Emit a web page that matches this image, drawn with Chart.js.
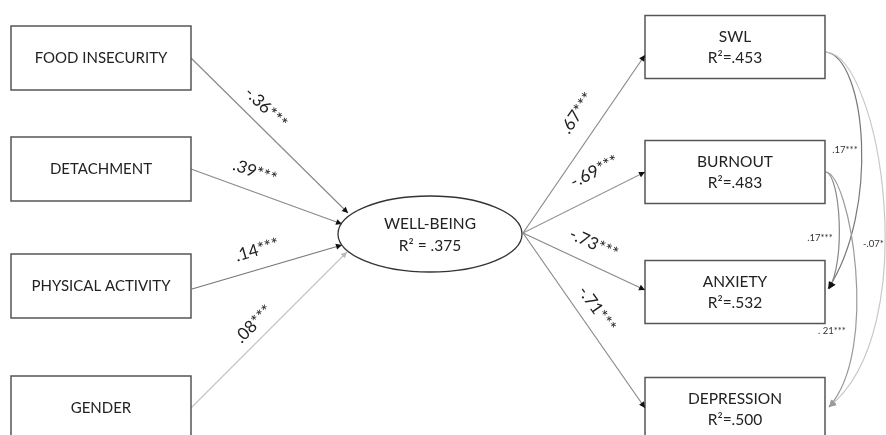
<!DOCTYPE html>
<html>
<head>
<meta charset="utf-8">
<script src="https://cdn.jsdelivr.net/npm/chart.js"></script>
<style>
  html, body { margin: 0; padding: 0; background: #fff; }
  #pathChart { display: block; }
</style>
</head>
<body>
<canvas id="pathChart" width="886" height="435"></canvas>
<script>
    // model values
    const predictors = ['FOOD INSECURITY', 'DETACHMENT', 'PHYSICAL ACTIVITY', 'GENDER'];
    const predictorCoefs = ['-.36***', '.39***', '.14***', '.08***'];
    const mediator = 'WELL-BEING';
    const mediatorR2 = '.375';
    const outcomes = ['SWL', 'BURNOUT', 'ANXIETY', 'DEPRESSION'];
    const outcomeR2 = ['.453', '.483', '.532', '.500'];
    const outcomeCoefs = ['.67***', '-.69***', '-.73***', '-.71***'];
    const covFrom = [0, 0, 1, 1];
    const covTo = [2, 3, 2, 3];
    const covLabels = ['.17***', '-.07*', '.17***', '. 21***'];

    // layout (diagram units = pixels of the 886x435 frame)
    const leftBox = { x0: 11, x1: 191, h: 64 };
    const leftBoxMid = [58, 169, 286, 408];
    const rightBox = { x0: 645, x1: 825, h: 63 };
    const rightBoxMid = [47, 172, 292, 409];
    const oval = { cx: 430, cy: 234, rx: 92, ry: 38 };
    const inStart = [[191, 58], [191, 169], [192, 289], [191, 408]];
    const inEnd = [[348, 213], [342, 224], [342, 245], [347, 252]];
    const inColor = ['#8a8a8a', '#8a8a8a', '#777777', '#c6c6c6'];
    const inLabelPos = [[0.40, 17], [0.38, 19], [0.47, 19], [0.47, 15]];
    const outStart = [523, 233];
    const outEnd = [[645, 55], [645, 172], [645, 290], [645, 408]];
    const outColor = ['#8a8a8a', '#969696', '#8a8a8a', '#8a8a8a'];
    const outLabelPos = [[0.60, 23], [0.67, 23], [0.51, 20], [0.49, 17]];
    const covCurves = [
        [[826, 52], [866, 58], [880, 210], [828, 289]],
        [[826, 52], [880, 55], [925, 330], [829, 407]],
        [[826, 172], [840, 175], [846, 260], [829, 289]],
        [[826, 172], [850, 175], [880, 350], [829, 407]]
    ];
    const covColor = ['#777777', '#c8c8c8', '#888888', '#9a9a9a'];
    const covLabelXY = [[845, 150, 'center'], [863, 244, 'left'], [820, 238, 'center'], [832, 331, 'center']];

    const FONT = 'Lato, "Open Sans", sans-serif';
    const TEXT = '#222222';

    function buildDatasets() {
        let sets = [];
        for (let i = 0; i < predictors.length; i++) {
            sets.push({
                data: [{ x: inStart[i][0], y: inStart[i][1] }, { x: inEnd[i][0], y: inEnd[i][1] }],
                showLine: true, borderColor: inColor[i], borderWidth: 1.2, pointRadius: 0
            });
        }
        for (let i = 0; i < outcomes.length; i++) {
            sets.push({
                data: [{ x: outStart[0], y: outStart[1] }, { x: outEnd[i][0], y: outEnd[i][1] }],
                showLine: true, borderColor: outColor[i], borderWidth: 1.2, pointRadius: 0
            });
        }
        return sets;
    }

    function arrowHead(ctx, x, y, ang, len, half, color) {
        ctx.save();
        ctx.translate(x, y);
        ctx.rotate(ang);
        ctx.beginPath();
        ctx.moveTo(0, 0);
        ctx.lineTo(-len, -half);
        ctx.lineTo(-len, half);
        ctx.closePath();
        ctx.fillStyle = color;
        ctx.fill();
        ctx.restore();
    }

    function pathLabel(ctx, a, b, t, off, text) {
        let dx = b[0] - a[0], dy = b[1] - a[1];
        let len = Math.hypot(dx, dy);
        let ux = dx / len, uy = dy / len;
        let x = a[0] + dx * t + uy * off;
        let y = a[1] + dy * t - ux * off;
        ctx.save();
        ctx.translate(x, y);
        ctx.rotate(Math.atan2(dy, dx));
        ctx.font = '17px ' + FONT;
        ctx.fillStyle = TEXT;
        ctx.textAlign = 'center';
        ctx.textBaseline = 'middle';
        ctx.fillText(text, 0, 0);
        ctx.restore();
    }

    function box(ctx, x0, x1, y0, y1) {
        ctx.fillStyle = '#fff';
        ctx.fillRect(x0, y0, x1 - x0, y1 - y0);
        ctx.strokeStyle = '#555555';
        ctx.lineWidth = 1.5;
        ctx.strokeRect(x0, y0, x1 - x0, y1 - y0);
    }

    const diagramPlugin = {
        id: 'diagram',
        afterDatasetsDraw(chart) {
            const ctx = chart.ctx;
            const xs = chart.scales.x, ys = chart.scales.y;
            const P = p => [xs.getPixelForValue(p[0]), ys.getPixelForValue(p[1])];
            ctx.save();

            // covariance curves
            for (let i = 0; i < covCurves.length; i++) {
                let c = covCurves[i].map(P);
                ctx.beginPath();
                ctx.moveTo(c[0][0], c[0][1]);
                ctx.bezierCurveTo(c[1][0], c[1][1], c[2][0], c[2][1], c[3][0], c[3][1]);
                ctx.strokeStyle = covColor[i];
                ctx.lineWidth = 1.2;
                ctx.stroke();
                let ang = Math.atan2(c[3][1] - c[2][1], c[3][0] - c[2][0]);
                arrowHead(ctx, c[3][0], c[3][1], ang, 7, 3.5, covTo[i] == 2 ? '#111' : '#9a9a9a');
            }
            ctx.font = '9.5px ' + FONT;
            ctx.fillStyle = '#333';
            ctx.textBaseline = 'middle';
            for (let i = 0; i < covLabels.length; i++) {
                let p = P(covLabelXY[i]);
                ctx.textAlign = covLabelXY[i][2];
                ctx.fillText(covLabels[i], p[0], p[1]);
            }

            // predictor boxes
            for (let i = 0; i < predictors.length; i++) {
                let a = P([leftBox.x0, leftBoxMid[i] - leftBox.h / 2]);
                let b = P([leftBox.x1, leftBoxMid[i] + leftBox.h / 2]);
                box(ctx, a[0], b[0], a[1], b[1]);
                let m = P([(leftBox.x0 + leftBox.x1) / 2, leftBoxMid[i]]);
                ctx.font = '15px ' + FONT;
                ctx.fillStyle = TEXT;
                ctx.textAlign = 'center';
                ctx.fillText(predictors[i], m[0], m[1]);
                let s = P(inStart[i]), e = P(inEnd[i]);
                arrowHead(ctx, e[0], e[1], Math.atan2(e[1] - s[1], e[0] - s[0]), 6, 3, i == 3 ? '#bbbbbb' : '#111');
                pathLabel(ctx, s, e, inLabelPos[i][0], inLabelPos[i][1], predictorCoefs[i]);
            }

            // outcome boxes
            for (let i = 0; i < outcomes.length; i++) {
                let a = P([rightBox.x0, rightBoxMid[i] - rightBox.h / 2]);
                let b = P([rightBox.x1, rightBoxMid[i] + rightBox.h / 2]);
                box(ctx, a[0], b[0], a[1], b[1]);
                let m = P([(rightBox.x0 + rightBox.x1) / 2, rightBoxMid[i]]);
                ctx.font = '15.5px ' + FONT;
                ctx.fillStyle = TEXT;
                ctx.textAlign = 'center';
                ctx.fillText(outcomes[i], m[0], m[1] - 10);
                ctx.fillText('R\u00b2=' + outcomeR2[i], m[0], m[1] + 11);
                let s = P(outStart), e = P(outEnd[i]);
                arrowHead(ctx, e[0], e[1], Math.atan2(e[1] - s[1], e[0] - s[0]), 6, 3, '#111');
                pathLabel(ctx, s, e, outLabelPos[i][0], outLabelPos[i][1], outcomeCoefs[i]);
            }

            // mediator oval
            let c = P([oval.cx, oval.cy]);
            ctx.beginPath();
            ctx.ellipse(c[0], c[1], oval.rx, oval.ry, 0, 0, Math.PI * 2);
            ctx.fillStyle = '#fff';
            ctx.fill();
            ctx.strokeStyle = '#333';
            ctx.lineWidth = 1.3;
            ctx.stroke();
            ctx.font = '15.5px ' + FONT;
            ctx.fillStyle = TEXT;
            ctx.textAlign = 'center';
            ctx.fillText(mediator, c[0], c[1] - 10);
            ctx.fillText('R\u00b2 = ' + mediatorR2, c[0], c[1] + 12);

            ctx.restore();
        }
    };

    new Chart(document.getElementById('pathChart'), {
        type: 'scatter',
        data: { datasets: buildDatasets() },
        options: {
            responsive: false,
            animation: false,
            devicePixelRatio: 1,
            layout: { padding: 0 },
            scales: {
                x: { type: 'linear', min: 0, max: 886, display: false },
                y: { type: 'linear', min: 0, max: 435, reverse: true, display: false }
            },
            plugins: {
                legend: { display: false },
                tooltip: { enabled: false }
            }
        },
        plugins: [diagramPlugin]
    });
</script>
</body>
</html>
